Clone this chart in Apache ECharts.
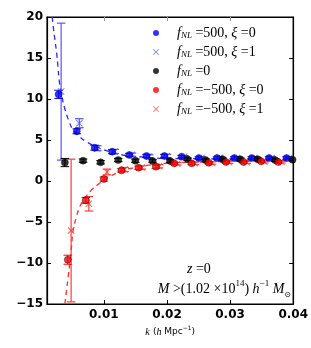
<!DOCTYPE html>
<html><head><meta charset="utf-8">
<script src="https://cdn.jsdelivr.net/npm/echarts@6/dist/echarts.min.js"></script>
<style>html,body{margin:0;padding:0;background:#fff}#c{width:311px;height:348px}</style>
</head><body><div id="c"></div>
<script>
// ---- data ----
const xTicks = [0.01, 0.02, 0.03, 0.04];
const yTicks = [-15, -10, -5, 0, 5, 10, 15, 20];

// f_NL = 500, xi = 0 (blue dots)
const kBlueDot = [0.00284,0.00572,0.00855,0.01133,0.01405,0.01677,0.0196,0.02234,0.02506,0.02794,0.03068,0.03344,0.03618,0.03895];
const yBlueDot = [10.57,6.06,4.06,3.57,3.17,3.05,3.05,2.97,2.8,2.8,2.8,2.8,2.8,2.8];
const eBlueDot = [0.5,0.3,0.3,0.25,0.2,0.2,0.2,0.15,0.15,0.15,0.15,0.15,0.15,0.15];

// f_NL = 500, xi = 1 (blue crosses)
const kBlueX = [0.00324,0.00612,0.00895,0.01173,0.01445,0.01717,0.02,0.02274,0.02546,0.02834,0.03108,0.03384,0.03658,0.03935];
const yBlueX = [10.9,7.05,4.0,3.6,3.2,3.0,3.05,2.95,2.8,2.85,2.8,2.8,2.8,2.8];
const eBlueX = [8.35,0.55,0.3,0.25,0.2,0.2,0.2,0.15,0.15,0.15,0.15,0.15,0.15,0.15];

// f_NL = 0 (black dots)
const kBlack = [0.00383,0.00671,0.00949,0.01228,0.015,0.01772,0.0205,0.02328,0.02611,0.02883,0.03162,0.03439,0.03712,0.0399];
const yBlack = [2.25,2.48,2.28,2.56,2.48,2.44,2.44,2.65,2.56,2.65,2.65,2.65,2.56,2.6];
const eBlack = [0.5,0.2,0.2,0.2,0.2,0.15,0.15,0.15,0.15,0.15,0.15,0.15,0.15,0.15];

// f_NL = -500, xi = 0 (red dots)
const kRedDot = [0.0043,0.00713,0.01001,0.01279,0.01551,0.01825,0.02113,0.02391,0.02663,0.02935,0.03214,0.03492,0.03764];
const yRedDot = [-9.6,-2.36,0.24,1.3,1.62,1.74,2.15,2.15,2.23,2.32,2.32,2.4,2.32];
const eRedDot = [0.55,0.35,0.25,0.2,0.2,0.2,0.15,0.15,0.15,0.15,0.15,0.15,0.15];

// f_NL = -500, xi = 1 (red crosses)
const kRedX = [0.00482,0.00763,0.0105,0.01329,0.01601,0.01875,0.02163,0.02441,0.02713,0.02985,0.03264,0.03542,0.03814];
const yRedX = [-6.04,-2.78,1.1,1.4,1.65,1.8,2.1,2.15,2.2,2.3,2.3,2.35,2.35];
const eRedX = [8.7,0.88,0.35,0.25,0.2,0.2,0.15,0.15,0.15,0.15,0.15,0.15,0.15];

// theory curves (dashed)
const kBlueCurve = [0.00183,0.00199,0.00226,0.00253,0.00273,0.00293,0.00336,0.00388,0.00441,0.00514,0.00619,0.00724,0.00882,0.01091,0.013,0.01562,0.01877,0.025,0.032,0.04];
const yBlueCurve = [20,18.8,17.2,15.6,14.0,12.3,10.3,8.66,7.44,6.22,5.4,4.79,4.18,3.57,3.17,2.96,2.77,2.72,2.7,2.68];
const kRedCurve = [0.00383,0.0041,0.00435,0.00462,0.00488,0.00514,0.00567,0.00619,0.00698,0.00803,0.00933,0.01091,0.01248,0.01432,0.01982,0.025,0.032,0.04];
const yRedCurve = [-15,-13.3,-11.7,-10.0,-8.0,-6.0,-4.35,-3.13,-2.1,-1.1,-0.28,0.52,1.13,1.55,2.16,2.3,2.4,2.45];

const legendLabels = {
  b0: '{i|f}{s|NL}{n| =500, }{i|ξ}{n| =0}',
  b1: '{i|f}{s|NL}{n| =500, }{i|ξ}{n| =1}',
  k0: '{i|f}{s|NL}{n| =0}',
  r0: '{i|f}{s|NL}{n| =−500, }{i|ξ}{n| =0}',
  r1: '{i|f}{s|NL}{n| =−500, }{i|ξ}{n| =1}'
};

const zip3 = (a,b,c) => a.map((v,i)=>[v,b[i],c[i]]);
const zip2 = (a,b) => a.map((v,i)=>[v,b[i]]);
const XPATH = 'path://M0,1L1,0L5,4L9,0L10,1L6,5L10,9L9,10L5,6L1,10L0,9L4,5Z';

function errSeries(data, color, width){
  return {
    type:'custom', data:data, z:2, silent:true, clip:true,
    renderItem:function(params, api){
      const x=api.value(0), y=api.value(1), e=api.value(2);
      const t=api.coord([x,y+e]), b=api.coord([x,y-e]);
      const w=4.3;
      const st={stroke:color, lineWidth:width};
      return {type:'group', children:[
        {type:'line', shape:{x1:t[0],y1:t[1],x2:b[0],y2:b[1]}, style:st},
        {type:'line', shape:{x1:t[0]-w,y1:t[1],x2:t[0]+w,y2:t[1]}, style:st},
        {type:'line', shape:{x1:b[0]-w,y1:b[1],x2:b[0]+w,y2:b[1]}, style:st}
      ]};
    }
  };
}

const BLUE='#0000ff', BLUEL='#5555ff', RED='#ff0000', REDL='#ff3a3a';
const FS = 14;
const serifI = {fontFamily:'Liberation Serif', fontStyle:'italic', fontSize:FS, lineHeight:14, color:'#000'};
const serifN = {fontFamily:'Liberation Serif', fontSize:FS, lineHeight:14, color:'#000'};
const axisLineStyle = {show:true, onZero:false, lineStyle:{color:'#000', width:1.2}};

const chart = echarts.init(document.getElementById('c'), null, {renderer:'canvas'});
chart.setOption({
  animation:false,
  grid:{left:47, right:16, top:17, bottom:44, show:true, borderColor:'#000', borderWidth:1.2, backgroundColor:'transparent'},
  xAxis:[{
    type:'value', min:0.001, max:0.04, position:'bottom',
    splitLine:{show:false},
    axisLine:axisLineStyle,
    axisTick:{show:true, inside:true, length:4, customValues:xTicks, lineStyle:{color:'#000'}},
    axisLabel:{customValues:xTicks, margin:5, fontFamily:'DejaVu Sans', fontWeight:'bold', fontSize:12, color:'#000',
      formatter:v=>v.toFixed(2)},
    name:'{i|k} {n|(}{i|h}{n| Mpc}{sup|−1}{n|)}', nameLocation:'middle', nameGap:19,
    nameTextStyle:{rich:{
      i:{fontFamily:'Liberation Serif', fontStyle:'italic', fontSize:10, color:'#000'},
      n:{fontFamily:'DejaVu Sans', fontSize:9, color:'#000'},
      sup:{fontFamily:'DejaVu Sans', fontSize:6, color:'#000', verticalAlign:'top', lineHeight:10}
    }}
  },{
    type:'value', min:0.001, max:0.04, position:'top',
    splitLine:{show:false},
    axisLine:axisLineStyle,
    axisTick:{show:true, inside:true, length:4, customValues:[0.01,0.02,0.03], lineStyle:{color:'#999'}},
    axisLabel:{show:false}
  }],
  yAxis:[{
    type:'value', min:-15, max:20, interval:5, position:'left',
    splitLine:{show:false},
    axisLine:axisLineStyle,
    axisTick:{show:true, inside:true, length:4, lineStyle:{color:'#000'}},
    axisLabel:{margin:4, fontFamily:'DejaVu Sans', fontWeight:'bold', fontSize:12, color:'#000',
      formatter:v=> v<0 ? '\u2212'+(-v) : String(v)}
  },{
    type:'value', min:-15, max:20, interval:5, position:'right',
    splitLine:{show:false},
    axisLine:axisLineStyle,
    axisTick:{show:true, inside:true, length:4, lineStyle:{color:'#000'}},
    axisLabel:{show:false}
  }],
  legend:{
    orient:'vertical', left:153, top:26, padding:0, itemWidth:32, itemHeight:6, itemGap:5,
    itemStyle:{borderWidth:0},
    data:[
      {name:'b0', icon:'circle'},
      {name:'b1', icon:XPATH},
      {name:'k0', icon:'circle'},
      {name:'r0', icon:'circle'},
      {name:'r1', icon:XPATH}
    ],
    formatter:n=>legendLabels[n],
    textStyle:{rich:{
      i:serifI,
      s:{fontFamily:'Liberation Serif', fontStyle:'italic', fontSize:9, lineHeight:8, verticalAlign:'bottom', color:'#000'},
      n:serifN
    }}
  },
  graphic:[
    {type:'text', left:187, top:262, style:{
      text:'{i|z}{n| =0}',
      rich:{i:serifI, n:serifN}
    }},
    {type:'text', right:20, top:279, style:{
      text:'{i|M}{n| >(1.02 ×10}{sup|14}{n|) }{i|h}{sup|−1}{n| }{i|M}{s|⊙}',
      rich:{
        i:serifI,
        n:serifN,
        sup:{fontFamily:'Liberation Serif', fontSize:9, lineHeight:20, verticalAlign:'top', color:'#000'},
        s:{fontFamily:'DejaVu Sans', fontSize:8, lineHeight:8, verticalAlign:'bottom', color:'#000'}
      }
    }}
  ],
  series:[
    {name:'blueCurve', type:'line', data:zip2(kBlueCurve,yBlueCurve), smooth:0.4, symbol:'none', z:1,
      lineStyle:{color:'#2a2aff', width:1.3, type:[5,4]}, silent:true},
    {name:'redCurve', type:'line', data:zip2(kRedCurve,yRedCurve), smooth:0.4, symbol:'none', z:1,
      lineStyle:{color:'#ff2a2a', width:1.3, type:[5,4]}, silent:true},
    errSeries(zip3(kBlueX,yBlueX,eBlueX), BLUEL, 1.2),
    errSeries(zip3(kRedX,yRedX,eRedX), REDL, 1.2),
    errSeries(zip3(kBlueDot,yBlueDot,eBlueDot), BLUE, 1),
    errSeries(zip3(kBlack,yBlack,eBlack), '#000', 1),
    errSeries(zip3(kRedDot,yRedDot,eRedDot), RED, 1),
    {name:'b1', type:'scatter', data:zip2(kBlueX,yBlueX), symbol:XPATH, symbolSize:7, z:3,
      itemStyle:{color:BLUEL}},
    {name:'r1', type:'scatter', data:zip2(kRedX,yRedX), symbol:XPATH, symbolSize:7, z:3,
      itemStyle:{color:REDL}},
    {name:'b0', type:'scatter', data:zip2(kBlueDot,yBlueDot), symbol:'circle', symbolSize:7, z:4,
      itemStyle:{color:BLUE, borderColor:'#000', borderWidth:0.5}},
    {name:'k0', type:'scatter', data:zip2(kBlack,yBlack), symbol:'circle', symbolSize:7, z:4,
      itemStyle:{color:'#000', borderColor:'#000', borderWidth:0.5}},
    {name:'r0', type:'scatter', data:zip2(kRedDot,yRedDot), symbol:'circle', symbolSize:7, z:4,
      itemStyle:{color:RED, borderColor:'#000', borderWidth:0.5}}
  ]
});
</script></body></html>
